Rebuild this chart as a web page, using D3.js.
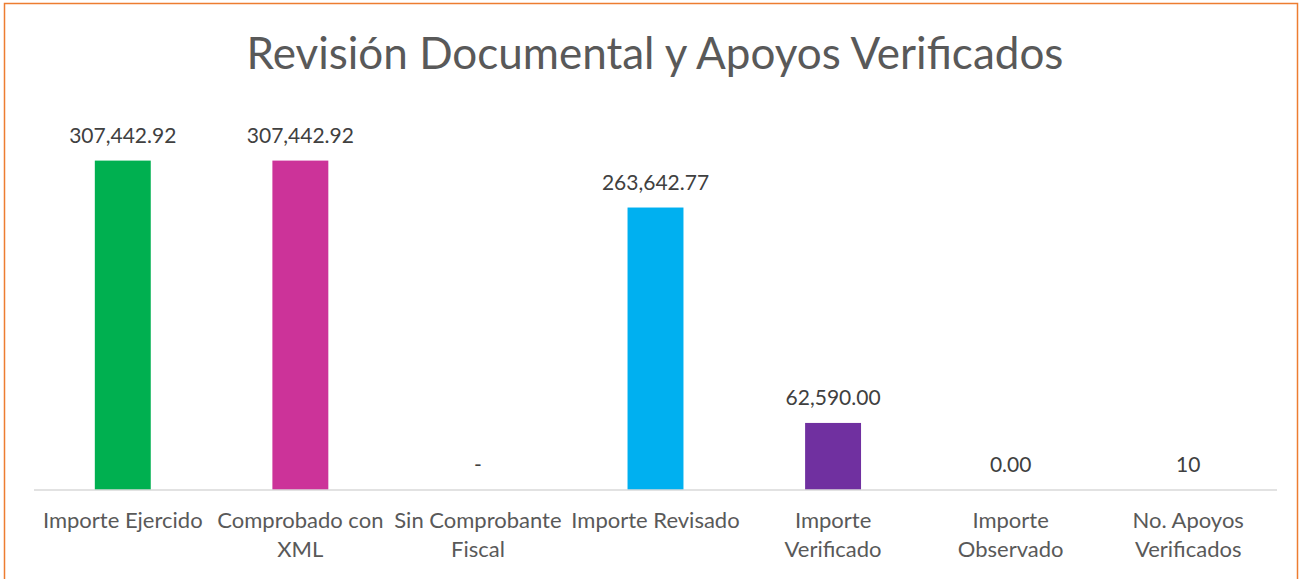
<!DOCTYPE html>
<html lang="es">
<head>
    <meta charset="UTF-8">
    <title>Revisión Documental</title>
    <style>
        body { margin: 0; background: #ffffff; }
        .title { font-family: Lato, "Open Sans", sans-serif; fill: #595959; }
        .vlabel { font-family: Lato, "Open Sans", sans-serif; fill: #404040; }
        .clabel { font-family: Lato, "Open Sans", sans-serif; fill: #595959; }
    </style>
</head>
<body>
    <script src="https://d3js.org/d3.v7.min.js"></script>
    <script>
        var width = 1305;
        var height = 579;

        // data
        var categories = ["Importe Ejercido", "Comprobado con XML", "Sin Comprobante Fiscal",
            "Importe Revisado", "Importe Verificado", "Importe Observado", "No. Apoyos Verificados"];
        var categoryLines = [
            ["Importe Ejercido"],
            ["Comprobado con", "XML"],
            ["Sin Comprobante", "Fiscal"],
            ["Importe Revisado"],
            ["Importe", "Verificado"],
            ["Importe", "Observado"],
            ["No. Apoyos", "Verificados"]
        ];
        var values = [307442.92, 307442.92, 0, 263642.77, 62590.00, 0, 10];
        var valueLabels = ["307,442.92", "307,442.92", "-", "263,642.77", "62,590.00", "0.00", "10"];
        var colors = ["#00B050", "#CC3399", "#A5A5A5", "#00B0F0", "#7030A0", "#5B9BD5", "#4472C4"];

        var svg = d3.select("body").append("svg")
            .attr("width", width)
            .attr("height", height);

        // chart frame
        svg.append("rect")
            .attr("x", 4.5).attr("y", 3.5)
            .attr("width", 1293).attr("height", 590)
            .attr("fill", "#ffffff")
            .attr("stroke", "#ED7D31")
            .attr("stroke-width", 1.5);

        svg.append("text")
            .attr("class", "title")
            .attr("x", 655)
            .attr("y", 69)
            .attr("text-anchor", "middle")
            .attr("font-size", 44)
            .text("Revisión Documental y Apoyos Verificados");

        var x = d3.scaleBand()
            .domain(categories)
            .range([34, 1277])
            .paddingInner(0.685)
            .paddingOuter(0.3425);

        var y = d3.scaleLinear()
            .domain([0, 350000])
            .range([490, 115]);

        svg.selectAll(".bar")
            .data(values)
            .enter().append("rect")
            .attr("class", "bar")
            .attr("x", function(d, i) { return x(categories[i]); })
            .attr("width", x.bandwidth())
            .attr("y", function(d) { return y(d); })
            .attr("height", function(d) { return y(0) - y(d); })
            .attr("fill", function(d, i) { return colors[i]; });

        // baseline
        svg.append("line")
            .attr("x1", 34).attr("x2", 1277)
            .attr("y1", y(0)).attr("y2", y(0))
            .attr("stroke", "#D9D9D9")
            .attr("stroke-width", 1.5);

        svg.selectAll(".vlabel")
            .data(values)
            .enter().append("text")
            .attr("class", "vlabel")
            .attr("x", function(d, i) { return x(categories[i]) + x.bandwidth() / 2; })
            .attr("y", function(d) { return y(d) - 18; })
            .attr("text-anchor", "middle")
            .attr("font-size", 21)
            .text(function(d, i) { return valueLabels[i]; });

        var cl = svg.selectAll(".clabel")
            .data(categories)
            .enter().append("text")
            .attr("class", "clabel")
            .attr("text-anchor", "middle")
            .attr("font-size", 22)
            .attr("y", 528);

        cl.selectAll("tspan")
            .data(function(d, i) { return categoryLines[i].map(function(t) { return { t: t, c: d }; }); })
            .enter().append("tspan")
            .attr("x", function(d) { return x(d.c) + x.bandwidth() / 2; })
            .attr("dy", function(d, j) { return j === 0 ? 0 : 29; })
            .text(function(d) { return d.t; });
    </script>
</body>
</html>
